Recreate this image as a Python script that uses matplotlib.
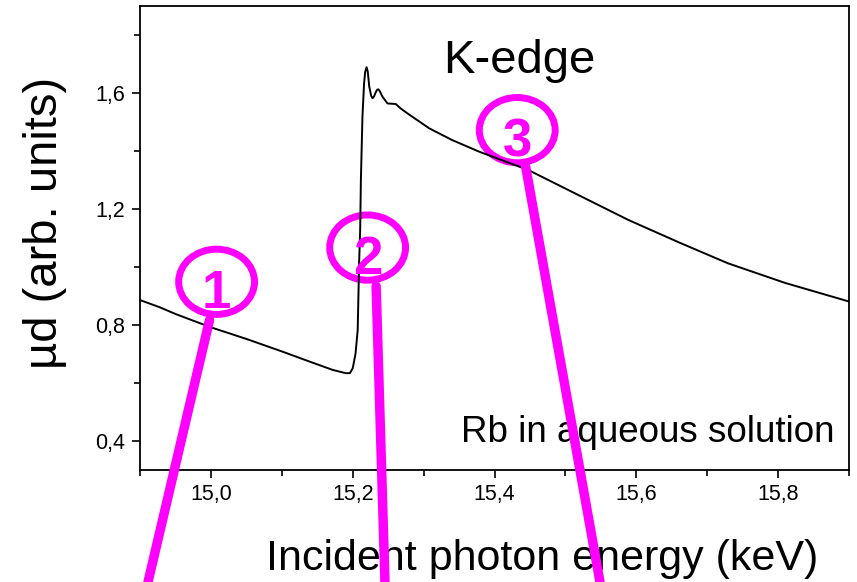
import matplotlib
matplotlib.use("Agg")
import matplotlib.pyplot as plt
from matplotlib.patches import Ellipse, ConnectionPatch
from matplotlib.ticker import MultipleLocator, FuncFormatter

plt.rcParams['font.family'] = ['Liberation Sans', 'DejaVu Sans']

# Rb K-edge absorption scan (keV, arb. units)
energy = [14.900, 14.928, 14.950, 15.000, 15.050, 15.100, 15.139, 15.172,
          15.190, 15.196, 15.200, 15.204, 15.207, 15.209, 15.2105, 15.2115,
          15.2137, 15.216, 15.2175, 15.2195, 15.2212, 15.2233, 15.226, 15.228,
          15.230, 15.232, 15.234, 15.236, 15.238, 15.242, 15.249, 15.2607,
          15.2675, 15.277, 15.308, 15.340, 15.378, 15.448, 15.520, 15.589,
          15.660, 15.729, 15.810, 15.900]
mu_d = [0.886, 0.861, 0.838, 0.792, 0.752, 0.709, 0.674, 0.645,
        0.634, 0.634, 0.651, 0.702, 0.783, 1.014, 1.128, 1.300,
        1.518, 1.633, 1.672, 1.689, 1.674, 1.622, 1.590, 1.582,
        1.588, 1.600, 1.610, 1.613, 1.607, 1.587, 1.564, 1.562,
        1.547, 1.530, 1.478, 1.438, 1.398, 1.334, 1.246, 1.162,
        1.085, 1.013, 0.945, 0.881]

# numbered regions: circle centre, where the leader starts, where it ends (figure x)
region_labels = ["1", "2", "3"]
circle_x = [15.008, 15.221, 15.432]
circle_y = [0.949, 1.067, 1.472]
leader_x = [14.998, 15.233, 15.444]
leader_y = [0.817, 0.934, 1.345]
leader_end = [0.1727, 0.4492, 0.7001]

magenta = '#ff00ff'

fig = plt.figure(figsize=(8.57, 5.82), dpi=100)
ax = fig.add_axes([0.1634, 0.1924, 0.8273, 0.7973])

ax.plot(energy, mu_d, color='black', lw=1.4)

ax.set_xlim(14.9, 15.9)
ax.set_ylim(0.3, 1.9)
ax.xaxis.set_major_locator(MultipleLocator(0.2))
ax.xaxis.set_minor_locator(MultipleLocator(0.1))
ax.yaxis.set_major_locator(MultipleLocator(0.4))
ax.yaxis.set_minor_locator(MultipleLocator(0.2))
comma = FuncFormatter(lambda v, p: f"{v:.1f}".replace('.', ','))
ax.xaxis.set_major_formatter(comma)
ax.yaxis.set_major_formatter(comma)
ax.tick_params(which='both', direction='out', top=False, right=False, width=1.2)
ax.tick_params(which='major', length=5.5, labelsize=15.5)
ax.tick_params(axis='x', which='major', pad=4.5)
ax.tick_params(axis='y', which='major', pad=5.5)
ax.tick_params(which='minor', length=4.3)
for s in ax.spines.values():
    s.set_linewidth(1.3)

ax.set_xlabel("Incident photon energy (keV)", fontsize=31, va='baseline')
ax.xaxis.set_label_coords(0.5675, -0.2155)
ax.set_ylabel("µd (arb. units)", fontsize=34, va='center')
ax.yaxis.set_label_coords(-0.134, 0.532)

ax.text(0.427, 0.856, "K-edge", transform=ax.transAxes, fontsize=34,
        ha='left', va='baseline')
ax.text(0.979, 0.061, "Rb in aqueous solution", transform=ax.transAxes,
        fontsize=26.5, ha='right', va='baseline')

for lab, cx, cy, lx, ly, fx in zip(region_labels, circle_x, circle_y,
                                   leader_x, leader_y, leader_end):
    ax.add_patch(Ellipse((cx, cy), 0.107, 0.225, fill=False,
                         edgecolor=magenta, lw=5, clip_on=False))
    ax.annotate(lab, (cx, cy), xytext=(0, -19), textcoords='offset points',
                ha='center', va='baseline', fontsize=38, fontweight='bold',
                color=magenta)
    fig.add_artist(ConnectionPatch((lx, ly), (fx, 0.0), coordsA=ax.transData,
                                   coordsB=fig.transFigure, color=magenta,
                                   lw=6.8))

fig.savefig("out.png", dpi=100)
